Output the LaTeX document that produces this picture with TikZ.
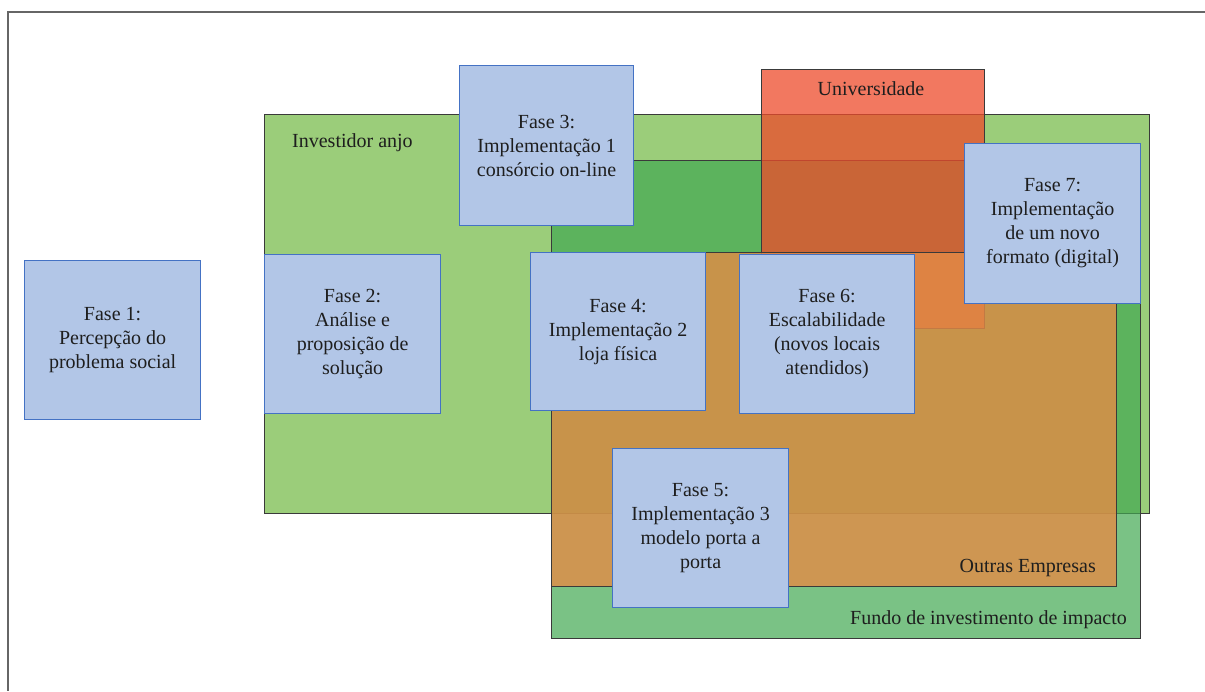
\documentclass[tikz,border=0pt]{standalone}
\usepackage{fontspec}
\setmainfont{Liberation Serif}
\definecolor{framec}{HTML}{666666}
\definecolor{edge}{HTML}{3A3A3A}
\definecolor{txt}{HTML}{1E1E1E}
\definecolor{anjo}{RGB}{155,205,122}
\definecolor{fundo}{RGB}{66,169,82}
\definecolor{univ}{RGB}{238,75,43}
\definecolor{outras}{RGB}{228,139,70}
\definecolor{phasefill}{RGB}{178,198,231}
\definecolor{phaseedge}{HTML}{4472C4}
\begin{document}
\begin{tikzpicture}[x=1pt,y=-1pt,
  lbl/.style={font=\fontsize{20}{24}\selectfont, text=txt, inner sep=0pt},
  region/.style={draw=edge, line width=1pt},
  phase/.style={lbl, draw=phaseedge, fill=phasefill, line width=1.2pt,
    align=center, anchor=north west, minimum width=176pt, minimum height=159pt}]
\useasboundingbox (0,0) rectangle (1205,691);
\fill[white] (0,0) rectangle (1205,691);

% page frame (runs off the right and bottom edges)
\draw[framec, line width=1.5pt] (1205,12) -- (8,12) -- (8,691);

% stakeholder regions
\draw[region, fill=anjo] (264,114) rectangle (1149,513);
\draw[region, fill=fundo, fill opacity=0.7] (551,160) rectangle (1140,638);
\draw[region, fill=univ, fill opacity=0.75] (761,69) rectangle (984,328);
\draw[region, fill=outras, fill opacity=0.8] (551,252) rectangle (1116,586);

% region labels
\node[lbl, anchor=west] (lanjo) at (292,143) {Investidor anjo};
\node[lbl] (luniv) at (871,89) {Universidade};
\node[lbl, anchor=east] (loutras) at (1096,568) {Outras Empresas};
\node[lbl, anchor=east] (lfundo) at (1127,620) {Fundo de investimento de impacto};

% phases
\node[phase] (f1) at (24,260) {Fase 1:\\Percepção do\\problema social};
\node[phase] (f2) at (264,254) {Fase 2:\\Análise e\\proposição de\\solução};
\node[phase, minimum width=174pt, minimum height=160pt] (f3) at (459,65) {Fase 3:\\Implementação 1\\consórcio on-line};
\node[phase, minimum width=175pt, minimum height=158pt] (f4) at (530,252) {Fase 4:\\Implementação 2\\loja física};
\node[phase] (f5) at (612,448) {Fase 5:\\Implementação 3\\modelo porta a\\porta};
\node[phase, minimum width=175pt] (f6) at (739,254) {Fase 6:\\Escalabilidade\\(novos locais\\atendidos)};
\node[phase, minimum height=160pt] (f7) at (964,143) {Fase 7:\\Implementação\\de um novo\\formato (digital)};
\end{tikzpicture}
\end{document}
